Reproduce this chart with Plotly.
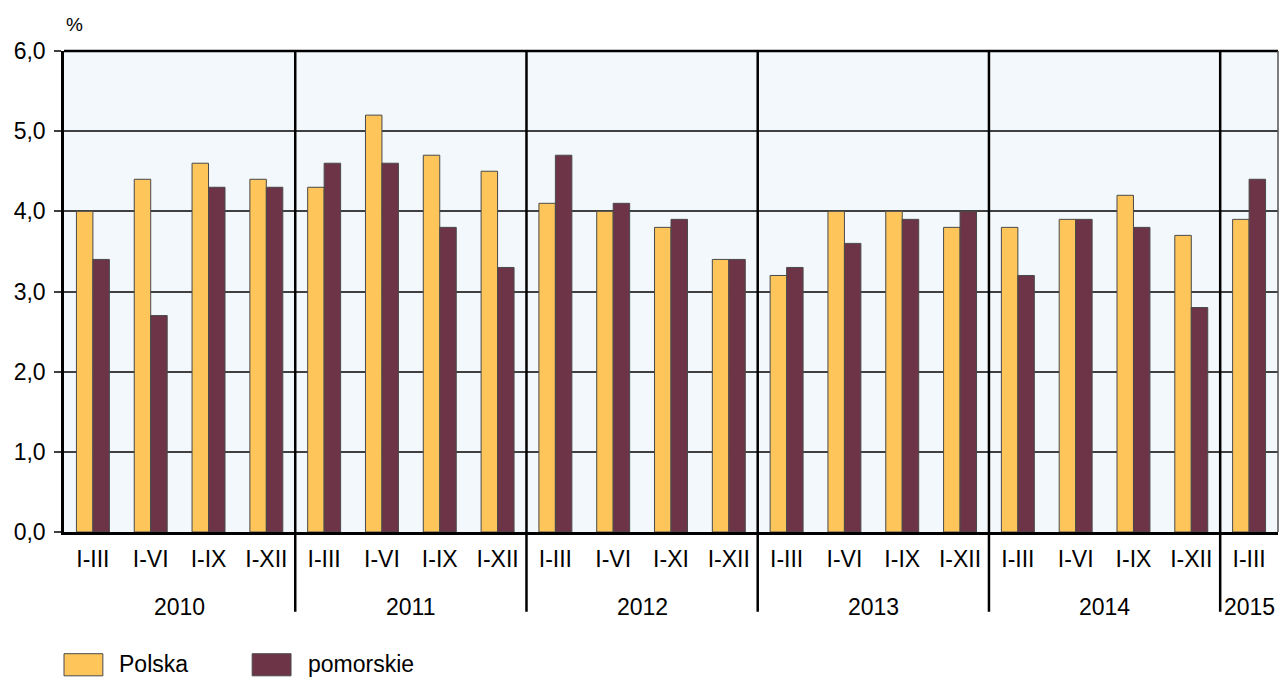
import plotly.graph_objects as go

years = ["2010", "2011", "2012", "2013", "2014", "2015"]
periods = ["I-III", "I-VI", "I-IX", "I-XII",
           "I-III", "I-VI", "I-IX", "I-XII",
           "I-III", "I-VI", "I-XI", "I-XII",
           "I-III", "I-VI", "I-IX", "I-XII",
           "I-III", "I-VI", "I-IX", "I-XII",
           "I-III"]
year_sizes = [4, 4, 4, 4, 4, 1]
polska = [4.0, 4.4, 4.6, 4.4,
          4.3, 5.2, 4.7, 4.5,
          4.1, 4.0, 3.8, 3.4,
          3.2, 4.0, 4.0, 3.8,
          3.8, 3.9, 4.2, 3.7,
          3.9]
pomorskie = [3.4, 2.7, 4.3, 4.3,
             4.6, 4.6, 3.8, 3.3,
             4.7, 4.1, 3.9, 3.4,
             3.3, 3.6, 3.9, 4.0,
             3.2, 3.9, 3.8, 2.8,
             4.4]
series_names = ["Polska", "pomorskie"]
colors = ["#FEC55B", "#6D3448"]

x = list(range(len(periods)))
FONT = "Liberation Sans, Arial, sans-serif"
FS = 23

fig = go.Figure()
for name, vals, col in zip(series_names, [polska, pomorskie], colors):
    fig.add_trace(go.Bar(x=x, y=vals, name=name, marker_color=col,
                         marker_line_color="#4a4a4a", marker_line_width=1,
                         showlegend=False))

shapes = []
annotations = []
start = 0
for i, (yr, n) in enumerate(zip(years, year_sizes)):
    center = start + (n - 1) / 2
    annotations.append(dict(x=center, y=-0.156, xref="x", yref="paper",
                            text=yr, showarrow=False,
                            font=dict(size=FS, color="black", family=FONT),
                            yanchor="middle"))
    if i > 0:
        shapes.append(dict(type="line", xref="x", yref="paper",
                           x0=start - 0.5, x1=start - 0.5, y0=1, y1=-0.166,
                           line=dict(color="black", width=2.5)))
    start += n

shapes.append(dict(type="line", xref="paper", yref="paper", x0=0, x1=1, y0=1, y1=1,
                   line=dict(color="black", width=2.5)))
shapes.append(dict(type="line", xref="paper", yref="paper", x0=1, x1=1, y0=0, y1=1,
                   line=dict(color="#555555", width=1.5)))

leg = [(0.0, 0.032, 0.044), (0.155, 0.187, 0.199)]
for (x0, x1, tx), name, col in zip(leg, series_names, colors):
    shapes.append(dict(type="rect", xref="paper", yref="paper",
                       x0=x0, x1=x1, y0=-0.253, y1=-0.299,
                       fillcolor=col, line=dict(color="#4a4a4a", width=1)))
    annotations.append(dict(x=tx, y=-0.274, xref="paper", yref="paper",
                            text=name, showarrow=False, xanchor="left",
                            yanchor="middle",
                            font=dict(size=FS, color="black", family=FONT)))

annotations.append(dict(x=0.0085, y=1.055, xref="paper", yref="paper", text="%",
                        showarrow=False, xanchor="center", yanchor="middle",
                        font=dict(size=19, color="black", family=FONT)))

fig.update_layout(
    width=1282, height=679,
    margin=dict(l=64, r=4, t=51, b=147),
    paper_bgcolor="white",
    plot_bgcolor="#F3F8FC",
    barmode="group",
    bargap=0.43,
    bargroupgap=0,
    separators=", ",
    font=dict(family=FONT, size=FS, color="black"),
    shapes=shapes,
    annotations=annotations,
    xaxis=dict(
        tickmode="array", tickvals=x, ticktext=periods,
        range=[-0.5, len(periods) - 0.5],
        showgrid=False, zeroline=False,
        showline=True, linecolor="black", linewidth=2.5,
        ticks="", ticklabelstandoff=5,
        tickfont=dict(size=FS, color="black", family=FONT),
    ),
    yaxis=dict(
        range=[0, 6], dtick=1, tickformat=".1f",
        showgrid=True, gridcolor="#404040", gridwidth=1.5,
        zeroline=False,
        showline=True, linecolor="black", linewidth=2.5,
        ticks="outside", ticklen=7, tickcolor="#404040", tickwidth=1.5,
        ticklabelstandoff=4,
        tickfont=dict(size=FS, color="black", family=FONT),
    ),
)

fig.write_html("out.html", config={"displayModeBar": False},
               post_script="document.body.style.margin='0';document.body.style.overflow='hidden';")
